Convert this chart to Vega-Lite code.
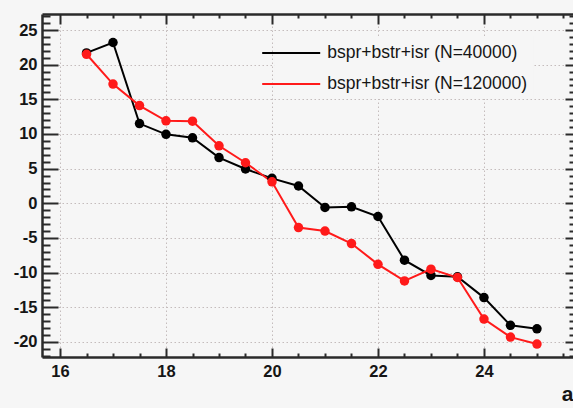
{
  "$schema": "https://vega.github.io/schema/vega-lite/v6.json",
  "width": 531,
  "height": 343,
  "autosize": {"type": "none"},
  "padding": {"left": 42, "top": 14, "right": 0, "bottom": 51},
  "background": "#f6f6f6",
  "config": {
    "view": {"stroke": null, "fill": "#f6f6f6"},
    "font": "Liberation Sans",
    "axis": {
      "domainColor": "#2a2a2a",
      "domainWidth": 2.5,
      "tickColor": "#2a2a2a",
      "tickWidth": 2,
      "labelFont": "Liberation Sans",
      "labelFontSize": 16.5,
      "labelFontWeight": "bold",
      "labelColor": "#151515",
      "gridColor": "#c4bcbc",
      "gridDash": [1.5, 2.5],
      "gridWidth": 1
    },
    "legend": {
      "orient": "none",
      "legendX": 232.2,
      "legendY": 22,
      "padding": 6,
      "fillColor": "#f6f6f6",
      "symbolType": "M-2.9,0H2.9",
      "symbolSize": 400,
      "symbolStrokeWidth": 2,
      "labelFont": "Liberation Sans",
      "labelFontSize": 17.5,
      "labelColor": "#151515",
      "labelOffset": 25,
      "labelLimit": 400,
      "rowPadding": 11
    }
  },
  "data": {
    "values": [
      {"a": 16.5, "v": 21.7, "s": "bspr+bstr+isr (N=40000)"},
      {"a": 17.0, "v": 23.2, "s": "bspr+bstr+isr (N=40000)"},
      {"a": 17.5, "v": 11.5, "s": "bspr+bstr+isr (N=40000)"},
      {"a": 18.0, "v": 9.95, "s": "bspr+bstr+isr (N=40000)"},
      {"a": 18.5, "v": 9.45, "s": "bspr+bstr+isr (N=40000)"},
      {"a": 19.0, "v": 6.6, "s": "bspr+bstr+isr (N=40000)"},
      {"a": 19.5, "v": 4.95, "s": "bspr+bstr+isr (N=40000)"},
      {"a": 20.0, "v": 3.6, "s": "bspr+bstr+isr (N=40000)"},
      {"a": 20.5, "v": 2.5, "s": "bspr+bstr+isr (N=40000)"},
      {"a": 21.0, "v": -0.6, "s": "bspr+bstr+isr (N=40000)"},
      {"a": 21.5, "v": -0.5, "s": "bspr+bstr+isr (N=40000)"},
      {"a": 22.0, "v": -1.9, "s": "bspr+bstr+isr (N=40000)"},
      {"a": 22.5, "v": -8.2, "s": "bspr+bstr+isr (N=40000)"},
      {"a": 23.0, "v": -10.4, "s": "bspr+bstr+isr (N=40000)"},
      {"a": 23.5, "v": -10.6, "s": "bspr+bstr+isr (N=40000)"},
      {"a": 24.0, "v": -13.6, "s": "bspr+bstr+isr (N=40000)"},
      {"a": 24.5, "v": -17.6, "s": "bspr+bstr+isr (N=40000)"},
      {"a": 25.0, "v": -18.1, "s": "bspr+bstr+isr (N=40000)"},
      {"a": 16.5, "v": 21.5, "s": "bspr+bstr+isr (N=120000)"},
      {"a": 17.0, "v": 17.2, "s": "bspr+bstr+isr (N=120000)"},
      {"a": 17.5, "v": 14.1, "s": "bspr+bstr+isr (N=120000)"},
      {"a": 18.0, "v": 11.9, "s": "bspr+bstr+isr (N=120000)"},
      {"a": 18.5, "v": 11.85, "s": "bspr+bstr+isr (N=120000)"},
      {"a": 19.0, "v": 8.3, "s": "bspr+bstr+isr (N=120000)"},
      {"a": 19.5, "v": 5.85, "s": "bspr+bstr+isr (N=120000)"},
      {"a": 20.0, "v": 3.1, "s": "bspr+bstr+isr (N=120000)"},
      {"a": 20.5, "v": -3.5, "s": "bspr+bstr+isr (N=120000)"},
      {"a": 21.0, "v": -4.0, "s": "bspr+bstr+isr (N=120000)"},
      {"a": 21.5, "v": -5.8, "s": "bspr+bstr+isr (N=120000)"},
      {"a": 22.0, "v": -8.8, "s": "bspr+bstr+isr (N=120000)"},
      {"a": 22.5, "v": -11.2, "s": "bspr+bstr+isr (N=120000)"},
      {"a": 23.0, "v": -9.5, "s": "bspr+bstr+isr (N=120000)"},
      {"a": 23.5, "v": -10.7, "s": "bspr+bstr+isr (N=120000)"},
      {"a": 24.0, "v": -16.7, "s": "bspr+bstr+isr (N=120000)"},
      {"a": 24.5, "v": -19.3, "s": "bspr+bstr+isr (N=120000)"},
      {"a": 25.0, "v": -20.3, "s": "bspr+bstr+isr (N=120000)"}
    ]
  },
  "resolve": {"axis": {"x": "independent", "y": "independent"}},
  "layer": [
    {
      "mark": {"type": "line", "strokeWidth": 2},
      "encoding": {
        "x": {
          "field": "a",
          "type": "quantitative",
          "scale": {"domain": [15.66, 25.68], "nice": false, "zero": false},
          "axis": {
            "orient": "bottom",
            "title": "a",
            "titleFont": "Liberation Sans",
            "titleFontSize": 21,
            "titleFontWeight": "bold",
            "titleColor": "#151515",
            "titleAnchor": "end",
            "titleAlign": "right",
            "titleBaseline": "alphabetic",
            "titleX": 531,
            "titleY": 43,
            "values": [16, 16.5, 17, 17.5, 18, 18.5, 19, 19.5, 20, 20.5, 21, 21.5, 22, 22.5, 23, 23.5, 24, 24.5, 25, 25.5],
            "labelExpr": "datum.value % 2 === 0 ? '' + datum.value : ''",
            "tickSize": {"condition": {"test": "datum.value % 2 === 0", "value": -9}, "value": -4},
            "grid": true,
            "gridOpacity": {"condition": {"test": "datum.value % 2 === 0", "value": 1}, "value": 0},
            "labelPadding": 15
          }
        },
        "y": {
          "field": "v",
          "type": "quantitative",
          "scale": {"domain": [-22.17, 27.31], "nice": false, "zero": false},
          "axis": {
            "orient": "left",
            "title": null,
            "values": [-22, -21, -20, -19, -18, -17, -16, -15, -14, -13, -12, -11, -10, -9, -8, -7, -6, -5, -4, -3, -2, -1, 0, 1, 2, 3, 4, 5, 6, 7, 8, 9, 10, 11, 12, 13, 14, 15, 16, 17, 18, 19, 20, 21, 22, 23, 24, 25, 26, 27],
            "labelExpr": "datum.value % 5 === 0 ? '' + datum.value : ''",
            "tickSize": {"condition": {"test": "datum.value % 5 === 0", "value": -16}, "value": -8},
            "grid": true,
            "gridOpacity": {"condition": {"test": "datum.value % 5 === 0", "value": 1}, "value": 0},
            "labelPadding": 21
          }
        },
        "color": {
          "field": "s",
          "type": "nominal",
          "sort": ["bspr+bstr+isr (N=40000)", "bspr+bstr+isr (N=120000)"],
          "scale": {"domain": ["bspr+bstr+isr (N=40000)", "bspr+bstr+isr (N=120000)"], "range": ["#000000", "#ff1a1a"]},
          "legend": {"title": null}
        }
      }
    },
    {
      "mark": {"type": "point", "filled": true, "opacity": 1, "size": 90},
      "encoding": {
        "x": {
          "field": "a",
          "type": "quantitative",
          "axis": {
            "orient": "top",
            "title": null,
            "labels": false,
            "grid": false,
            "values": [16, 16.5, 17, 17.5, 18, 18.5, 19, 19.5, 20, 20.5, 21, 21.5, 22, 22.5, 23, 23.5, 24, 24.5, 25, 25.5],
            "tickSize": {"condition": {"test": "datum.value % 2 === 0", "value": -10}, "value": -4}
          }
        },
        "y": {
          "field": "v",
          "type": "quantitative",
          "axis": {
            "orient": "right",
            "title": null,
            "labels": false,
            "grid": false,
            "domain": false,
            "values": [-22, -21, -20, -19, -18, -17, -16, -15, -14, -13, -12, -11, -10, -9, -8, -7, -6, -5, -4, -3, -2, -1, 0, 1, 2, 3, 4, 5, 6, 7, 8, 9, 10, 11, 12, 13, 14, 15, 16, 17, 18, 19, 20, 21, 22, 23, 24, 25, 26, 27],
            "tickSize": {"condition": {"test": "datum.value % 5 === 0", "value": -8}, "value": -4}
          }
        },
        "color": {"field": "s", "type": "nominal", "legend": null}
      }
    }
  ]
}
